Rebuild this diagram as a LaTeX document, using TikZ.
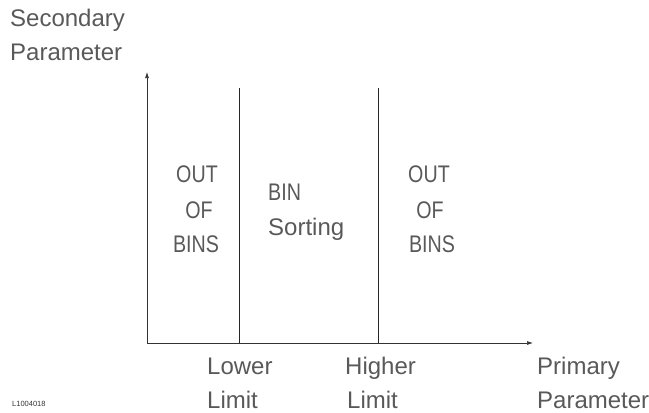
\documentclass[tikz,border=0pt]{standalone}
\usepackage{fontspec}
\setmainfont{Liberation Sans}
\newfontfamily\narrowfont[FakeStretch=0.82]{Liberation Sans}
\usetikzlibrary{arrows.meta}
\begin{document}
\begin{tikzpicture}[x=1pt,y=-1pt,
  lbl/.style={inner sep=0pt,text=black!65,font=\fontsize{24}{28}\selectfont},
  caps/.style={lbl,anchor=base,font=\narrowfont\fontsize{24}{28}\selectfont},
  lblw/.style={lbl,anchor=base west},
  axis/.style={draw=black!80,line width=0.7pt},
  tick/.style={draw=black!85,line width=0.7pt}]
\useasboundingbox (0,0) rectangle (649,413);
% axes
\coordinate (O) at (147,343);
\coordinate (ytop) at (147,72);
\coordinate (xend) at (533,343);
\coordinate (l1t) at (239,88);
\coordinate (l1b) at (239,343);
\coordinate (l2t) at (378,88);
\coordinate (l2b) at (378,343);
\draw[axis,-{Latex[length=6pt,width=4pt]}] (O) -- (ytop);
\draw[axis,-{Latex[length=6pt,width=4pt]}] (O) -- (xend);
\draw[tick] (l1t) -- (l1b);
\draw[tick] (l2t) -- (l2b);
% axis titles
\node[lblw] (sec1) at (10,26) {Secondary};
\node[lblw] (sec2) at (10,60) {Parameter};
\node[lblw] (pri1) at (537,374) {Primary};
\node[lblw] (pri2) at (537,408) {Parameter};
% limits
\node[lblw] (low1) at (207,374) {Lower};
\node[lblw] (low2) at (207,408) {Limit};
\node[lblw] (hi1) at (345,374) {Higher};
\node[lblw] (hi2) at (347,408) {Limit};
% regions
\node[caps] (ol1) at (197,182) {OUT};
\node[caps] (ol2) at (199,218) {OF};
\node[caps] (ol3) at (196,252) {BINS};
\node[caps,anchor=base west] (bin1) at (268,200) {BIN};
\node[lblw] (bin2) at (268,235) {Sorting};
\node[caps] (or1) at (429,182) {OUT};
\node[caps] (or2) at (430,218) {OF};
\node[caps] (or3) at (432,252) {BINS};
% figure id
\node[inner sep=0pt,anchor=base west,font=\fontsize{7.5}{9}\selectfont,text=black!80] (fid) at (12,406) {L1004018};
\end{tikzpicture}
\end{document}
